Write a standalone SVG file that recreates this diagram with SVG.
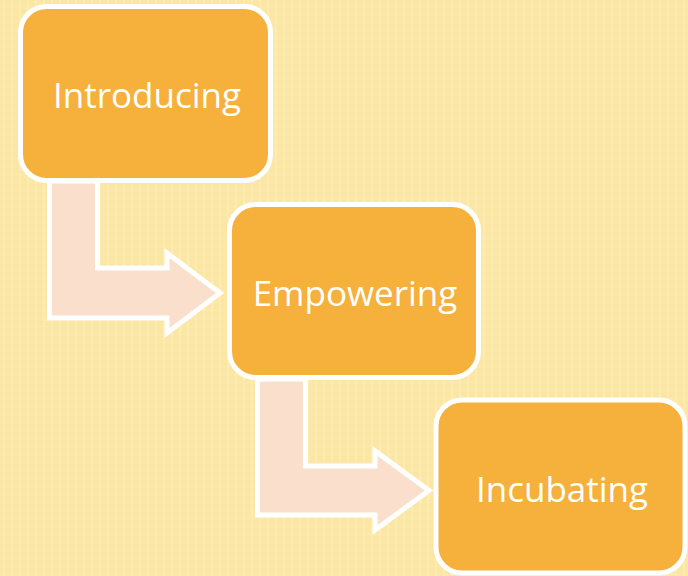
<svg xmlns="http://www.w3.org/2000/svg" width="688" height="576" viewBox="0 0 688 576">
<defs>
<pattern id="bg" width="8" height="8" patternUnits="userSpaceOnUse">
<rect width="8" height="8" fill="#fbe6a3"/>
<rect x="3" width="2" height="8" fill="#fdeebe" opacity="0.6"/>
<rect x="0" y="6" width="8" height="1" fill="#fdecb8" opacity="0.5"/>
</pattern>
<style>
.box{fill:#f5b13c;stroke:#ffffff;stroke-width:5}
.arr{fill:#fae0cc;stroke:#ffffff;stroke-width:5;stroke-linejoin:miter}
.lbl{font-family:"Open Sans","Liberation Sans",Arial,sans-serif;font-size:35px;fill:#ffffff;text-anchor:middle}
</style>
</defs>
<rect width="688" height="576" fill="url(#bg)"/>
<g id="connectors">
<path class="arr" d="M49.5,181 L97.5,181 L97.5,268 L167,268 L167,253 L220,293 L167,333 L167,318 L49.5,318 Z"/>
<path class="arr" d="M257.5,379 L305.5,379 L305.5,466 L375,466 L375,451 L429,490.5 L375,530 L375,515 L257.5,515 Z"/>
</g>
<g id="introducing">
<rect class="box" x="20.5" y="6.5" width="250" height="174" rx="26"/>
<text class="lbl" x="147" y="108">Introducing</text>
</g>
<g id="empowering">
<rect class="box" x="229.5" y="204.5" width="249" height="173" rx="26"/>
<text class="lbl" x="355" y="306">Empowering</text>
</g>
<g id="incubating">
<rect class="box" x="436" y="400" width="249" height="173" rx="26"/>
<text class="lbl" x="562" y="502">Incubating</text>
</g>
</svg>
